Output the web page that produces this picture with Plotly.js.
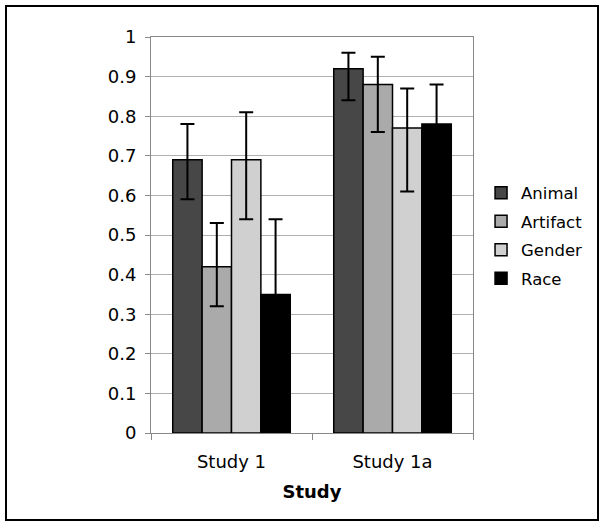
<!DOCTYPE html>
<html>
<head>
<meta charset="utf-8">
<script src="https://cdn.plot.ly/plotly-3.0.1.min.js"></script>
<style>
body { margin: 0; padding: 0; background: #fff; }
#wrap { position: relative; width: 603px; height: 531px; }
#chart { width: 603px; height: 531px; }
#frame { position: absolute; left: 5px; top: 5px; width: 590px; height: 512px; border: 2px solid #000; pointer-events: none; }
</style>
</head>
<body>
<div id="wrap"><div id="chart"></div><div id="frame"></div></div>
<script>
var categories = ["Study 1", "Study 1a"];
var seriesNames = ["Animal", "Artifact", "Gender", "Race"];
var animal = [0.69, 0.92];
var artifact = [0.42, 0.88];
var gender = [0.69, 0.77];
var race = [0.35, 0.78];
var animalErrPlus = [0.09, 0.04];
var animalErrMinus = [0.10, 0.08];
var artifactErrPlus = [0.11, 0.07];
var artifactErrMinus = [0.10, 0.12];
var genderErrPlus = [0.12, 0.10];
var genderErrMinus = [0.15, 0.16];
var raceErrPlus = [0.19, 0.10];
var raceErrMinus = [0.19, 0.10];
var yTicks = [0, 0.1, 0.2, 0.3, 0.4, 0.5, 0.6, 0.7, 0.8, 0.9, 1];

var colors = ["#474747", "#aaaaaa", "#d0d0d0", "#000000"];
var values = [animal, artifact, gender, race];
var plus = [animalErrPlus, artifactErrPlus, genderErrPlus, raceErrPlus];
var minus = [animalErrMinus, artifactErrMinus, genderErrMinus, raceErrMinus];

var traces = seriesNames.map(function (name, i) {
  return {
    type: "bar",
    name: name,
    x: categories,
    y: values[i],
    legendgroup: name,
    marker: { color: colors[i], line: { color: "#000", width: 1.5 } },
    error_y: {
      type: "data", array: plus[i], arrayminus: minus[i], symmetric: false,
      color: "#000", thickness: 2, width: 7
    }
  };
});

var layout = {
  width: 603, height: 531,
  margin: { l: 151, r: 130, t: 37, b: 98 },
  paper_bgcolor: "#fff", plot_bgcolor: "#fff",
  barmode: "group", bargap: 0.27, bargroupgap: 0,
  font: { family: "DejaVu Sans, Verdana, sans-serif", color: "#000", size: 16 },
  showlegend: true,
  legend: {
    x: 1.025, y: 0.65, xanchor: "left", yanchor: "top",
    font: { size: 16.5 }, tracegroupgap: 4, itemwidth: 30,
    bgcolor: "rgba(0,0,0,0)"
  },
  xaxis: {
    type: "category",
    showline: true, linecolor: "#888", linewidth: 1, mirror: true,
    ticks: "outside", tickson: "boundaries", ticklen: 6, tickcolor: "#888",
    tickfont: { size: 18 }, ticklabelstandoff: 12,
    title: { text: "<b>Study</b>", font: { size: 18 }, standoff: 14 }
  },
  yaxis: {
    range: [0, 1], tickvals: yTicks, ticktext: yTicks.map(String),
    showgrid: true, gridcolor: "#b0b0b0", gridwidth: 1,
    showline: true, linecolor: "#888", linewidth: 1, mirror: true,
    ticks: "outside", ticklen: 5, tickcolor: "#888",
    tickfont: { size: 18 }, ticklabelstandoff: 5, zeroline: false
  }
};

Plotly.newPlot("chart", traces, layout, { displayModeBar: false, staticPlot: true });
</script>
</body>
</html>
